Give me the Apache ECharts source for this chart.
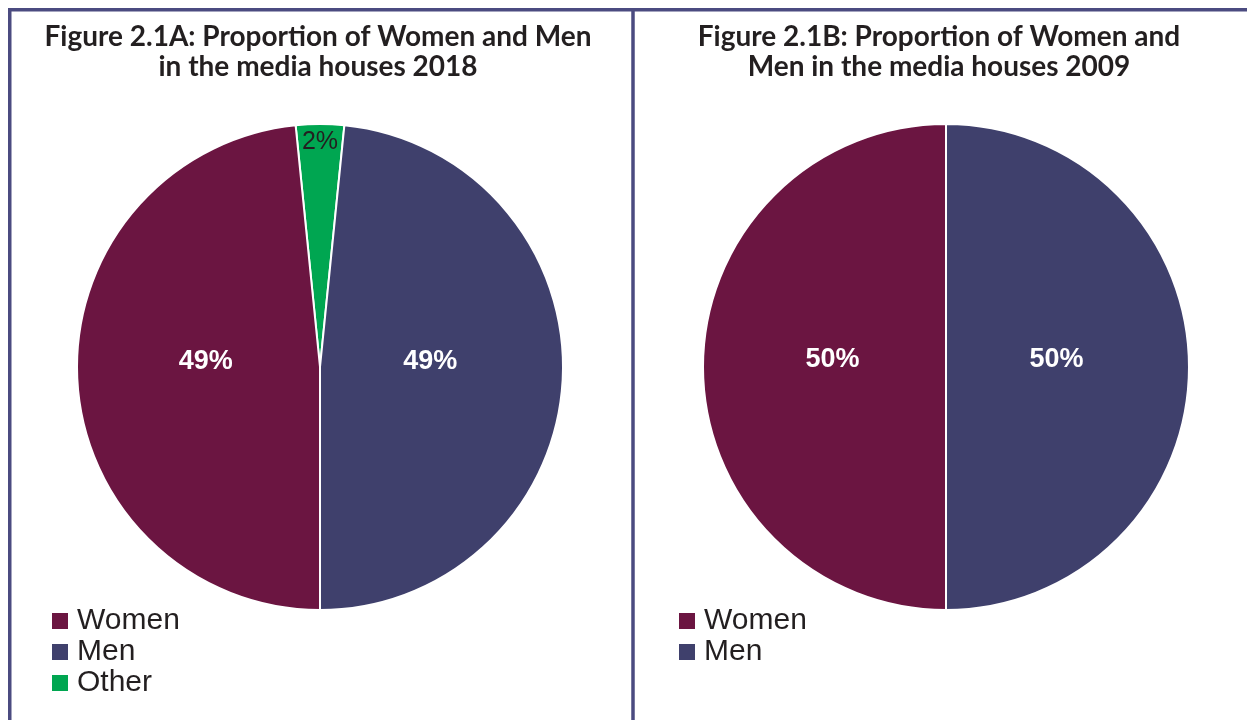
<!DOCTYPE html>
<html>
<head>
<meta charset="utf-8">
<script src="https://cdn.jsdelivr.net/npm/echarts@6/dist/echarts.min.js"></script>
<style>
  html, body { margin: 0; padding: 0; background: #fff; }
  #main { width: 1247px; height: 720px; }
</style>
</head>
<body>
<div id="main"></div>
<script>
// categories and values
var names2018 = ["Women", "Men", "Other"];
var values2018 = [48.4, 48.4, 3.2];
var labels2018 = ["49%", "49%", "2%"];

var names2009 = ["Women", "Men"];
var values2009 = [50, 50];
var labels2009 = ["50%", "50%"];

var colors = { Women: "#6b1541", Men: "#3f406c", Other: "#00a651" };

var titleA = "Figure 2.1A: Proportion of Women and Men\nin the media houses 2018";
var titleB = "Figure 2.1B: Proportion of Women and\nMen in the media houses 2009";

var frameColor = "#4b4b80";

// label nudges per pie
var offsets2018 = { Women: [10, -12], Men: [-14, -12], Other: [0, -100] };
var offsets2009 = { Women: [11, -7], Men: [-14, -7] };

function pieData(names, values, labels, offsets) {
    return names.map(function (n, i) {
        var item = {
            name : n,
            value : values[i],
            itemStyle : { color : colors[n] },
            label : { formatter : labels[i], offset : offsets[n] }
        };
        if (n === "Other") {
            item.label.color = "#231f20";
            item.label.fontWeight = "normal";
            item.label.fontSize = 25;
        }
        return item;
    });
}

// 2018: draw Other first so it straddles the top
var data2018 = pieData(names2018, values2018, labels2018, offsets2018);
var data2009 = pieData(names2009, values2009, labels2009, offsets2009);
var half = values2018[2] / values2018.reduce(function (a, b) { return a + b; }, 0) * 180;

var chart = echarts.init(document.getElementById("main"));

var titleStyle = {
    fontFamily : "Lato",
    fontWeight : "bold",
    fontSize : 28,
    lineHeight : 30,
    color : "#231f20"
};

var legendBase = {
    orient : "vertical",
    padding : 0,
    itemWidth : 18,
    itemHeight : 18,
    itemGap : 1,
    icon : "rect",
    selectedMode : false,
    textStyle : {
        fontFamily : "Liberation Sans",
        fontSize : 30,
        color : "#231f20",
        padding : [0, 0, 0, 3]
    }
};

var labelBase = {
    position : "inside",
    color : "#fff",
    fontFamily : "Liberation Sans",
    fontWeight : "bold",
    fontSize : 27
};

var option = {
    animation : false,
    title : [
        { text : titleA, left : 313, top : 17, textAlign : "center", textStyle : titleStyle },
        { text : titleB, left : 934, top : 17, textAlign : "center", textStyle : titleStyle }
    ],
    legend : [
        Object.assign({}, legendBase, { left : 50, top : 606, data : names2018 }),
        Object.assign({}, legendBase, { left : 677, top : 606, data : names2009 })
    ],
    graphic : [
        {
            type : "polyline",
            shape : { points : [[9.75, 720], [9.75, 9.75], [1250, 9.75]] },
            style : { stroke : frameColor, lineWidth : 3.5, fill : null }
        },
        {
            type : "line",
            shape : { x1 : 633, y1 : 9, x2 : 633, y2 : 720 },
            style : { stroke : frameColor, lineWidth : 3.5 }
        }
    ],
    series : [
        {
            name : "2018",
            type : "pie",
            center : [320, 367],
            radius : 243,
            startAngle : 90 + half,
            clockwise : true,
            data : [data2018[2], data2018[1], data2018[0]],
            itemStyle : { borderColor : "#fff", borderWidth : 2 },
            label : labelBase,
            labelLine : { show : false },
            emphasis : { disabled : true }
        },
        {
            name : "2009",
            type : "pie",
            center : [946, 367],
            radius : 243,
            startAngle : 90,
            clockwise : true,
            data : [data2009[1], data2009[0]],
            itemStyle : { borderColor : "#fff", borderWidth : 2 },
            label : labelBase,
            labelLine : { show : false },
            emphasis : { disabled : true }
        }
    ]
};

chart.setOption(option);
</script>
</body>
</html>
